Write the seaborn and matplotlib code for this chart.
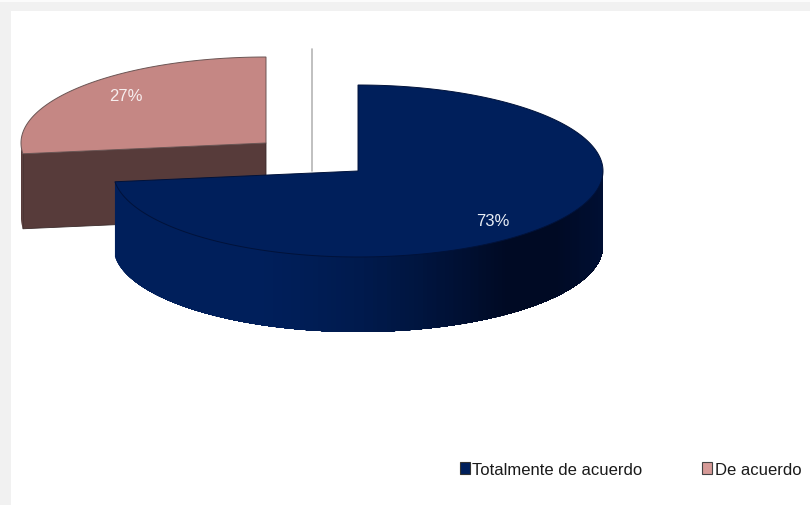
import numpy as np
import matplotlib
matplotlib.use("Agg")
import matplotlib.pyplot as plt
from matplotlib.patches import Polygon, Rectangle, Patch
import seaborn as sns

categories = ["Totalmente de acuerdo", "De acuerdo"]
shares = [73, 27]
top_colors = ["#001f5b", "#c58784"]
side_colors = ["#001f5b", "#573b3a"]
wall_shades = ["#001f5b", "#001f5b", "#001f5b", "#001f5b", "#001d55", "#001a4d",
               "#001642", "#001034", "#000a24", "#000a24", "#000f33"]

RX, RY, DEPTH = 245, 86, 75
CENTERS = [(358, 172), (266, 144)]

sns.set_theme(style="white")
plt.rcParams["font.family"] = ["Liberation Sans", "DejaVu Sans"]

fig = plt.figure(figsize=(8.1, 5.06), dpi=100)
ax = fig.add_axes([0, 0, 1, 1])
ax.set_xlim(0, 810)
ax.set_ylim(506, 0)
ax.axis("off")

# frame around the picture
ax.add_patch(Rectangle((0, 0), 810, 506, fc="#f1f1f1", ec="none", zorder=0))
ax.add_patch(Rectangle((0, 0), 810, 3, fc="#fbfbfb", ec="none", zorder=0.1))
ax.add_patch(Rectangle((11, 12), 799, 494, fc="white", ec="none", zorder=0.2))
ax.plot([312, 312], [50, 172], color="#b5b5b5", lw=1.2, zorder=1)


def rim(center, a0, a1, n=240, dy=0):
    t = np.radians(np.linspace(a0, a1, n))
    return np.column_stack([center[0] + RX * np.cos(t), center[1] - RY * np.sin(t) + dy])


# angles run clockwise from twelve o'clock
a_big_end = 90 - 360 * shares[0] / sum(shares)
c_big, c_small = CENTERS

# exploded small slice: cut face first, then its top
a_small_end = 90 + 360 * shares[1] / sum(shares)
edge = rim(c_small, a_small_end, a_small_end, 1)[0]
face = [c_small, tuple(edge), (edge[0], edge[1] + DEPTH), (c_small[0], c_small[1] + DEPTH)]
ax.add_patch(Polygon(face, closed=True, fc=side_colors[1], ec="#3a2a2a", lw=0.6, zorder=2))
left_side = np.vstack([rim(c_small, 180, a_small_end, 30), rim(c_small, a_small_end, 180, 30, DEPTH)])
ax.add_patch(Polygon(left_side, closed=True, fc=side_colors[1], ec="none", zorder=2))
top = np.vstack([[c_small], rim(c_small, 90, a_small_end)])
ax.add_patch(Polygon(top, closed=True, fc=top_colors[1], ec="#6b5554", lw=0.7, zorder=3))

# large slice: wall shaded by horizontal position, painted left to right
shade = sns.blend_palette(wall_shades, as_cmap=True)
x_min, x_max = c_big[0] - RX, c_big[0] + RX
steps = 160
angles = np.linspace(a_big_end, 0, steps + 1)
for i in range(steps):
    x_mid = c_big[0] + RX * np.cos(np.radians(angles[i]))
    col = shade((x_mid - x_min) / (x_max - x_min))
    seg = np.vstack([rim(c_big, angles[i], 0, 60), rim(c_big, 0, angles[i], 60, DEPTH)])
    ax.add_patch(Polygon(seg, closed=True, fc=col, ec="none", zorder=4))

top = np.vstack([[c_big], rim(c_big, 90, a_big_end)])
ax.add_patch(Polygon(top, closed=True, fc=top_colors[0], ec="#00123a", lw=0.7, zorder=5))

# value labels
ax.text(493, 222, f"{shares[0]}%", color="#e8edf5", fontsize=12, ha="center", va="center", zorder=6)
ax.text(126, 96, f"{shares[1]}%", color="#f7eeee", fontsize=12, ha="center", va="center", zorder=6)

# legend
handles = [Patch(fc=top_colors[0], ec="#333333", lw=0.8), Patch(fc="#d69a97", ec="#444444", lw=0.8)]
leg = ax.legend(handles, categories, loc="center right", bbox_to_anchor=(0.9995, 0.071),
                bbox_transform=ax.transAxes, ncol=2, frameon=False, fontsize=12,
                handlelength=0.62, handleheight=0.7, handletextpad=0.15,
                columnspacing=3.55, labelcolor="#1a1a1a", borderpad=0)

fig.savefig("out.png", dpi=100)
